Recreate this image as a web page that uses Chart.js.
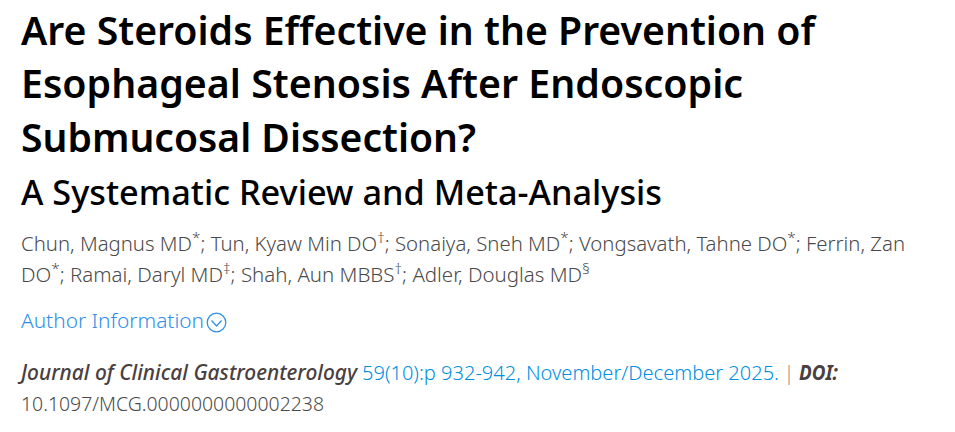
<!DOCTYPE html>
<html><head><meta charset="utf-8">
<script src="https://cdn.jsdelivr.net/npm/chart.js@4/dist/chart.umd.min.js"></script>
<style>html,body{margin:0;padding:0;background:#fff}#w{width:955px;height:432px;position:relative}canvas{display:block}</style>
</head><body><div id="w"><canvas id="c" width="955" height="432"></canvas></div>
<script>
const titleLines = ["Are Steroids Effective in the Prevention of","Esophageal Stenosis After Endoscopic","Submucosal Dissection?"];
const subtitleLine = ["A Systematic Review and Meta-Analysis"];
const authorsLine1 = [["Chun, Magnus MD"],["*",1],["; Tun, Kyaw Min DO"],["†",1],["; Sonaiya, Sneh MD"],["*",1],["; Vongsavath, Tahne DO"],["*",1],["; Ferrin, Zan"]];
const authorsLine2 = [["DO"],["*",1],["; Ramai, Daryl MD"],["‡",1],["; Shah, Aun MBBS"],["†",1],["; Adler, Douglas MD"],["§",1]];
const authorInfoLine = ["Author Information"];
const journalName = "Journal of Clinical Gastroenterology";
const citationText = "59(10):p 932-942, November/December 2025.";
const separatorText = "|";
const doiLabel = "DOI:";
const doiValue = "10.1097/MCG.0000000000002238";

const FF = '"Noto Sans"';
const GREY='#4a4a4a', BLUE='#0090e0', INFO='#3090e8', DARK='#4a4040';
const T=`600 39px ${FF}`;
const rows = [
 {y:45, x:21, r:815, runs:[{t:titleLines[0],f:T,c:'#000'}]},
 {y:98, x:21, r:743, runs:[{t:titleLines[1],f:T,c:'#000'}]},
 {y:152,x:21, r:476, runs:[{t:titleLines[2],f:T,c:'#000'}]},
 {y:205,x:21, r:662, runs:[{t:subtitleLine[0],f:`500 34px ${FF}`,c:'#000'}]},
 {y:251,x:21, r:905, runs:authorsLine1.map(a=>({t:a[0],sup:a[1],c:GREY}))},
 {y:282,x:21, r:590, runs:authorsLine2.map(a=>({t:a[0],sup:a[1],c:GREY}))},
 {y:328,x:21, r:204, runs:[{t:authorInfoLine[0],c:INFO}]},
 {y:380,x:21, r:357, runs:[{t:journalName,f:`italic 500 21px ${FF}`,c:DARK}]},
 {y:380,x:362,r:779, runs:[{t:citationText,c:BLUE}]},
 {y:380,x:786,r:792, runs:[{t:separatorText,c:'#333'}]},
 {y:380,x:799,r:838, runs:[{t:doiLabel,f:`italic 700 21px ${FF}`,c:DARK}]},
 {y:411,x:21, r:324, runs:[{t:doiValue,c:GREY}]}
];
const bodyFont=`350 20px ${FF}`, supFont=`300 15px ${FF}`;

const headerText = {
  id:'headerText',
  afterDraw(chart){
    const g=chart.ctx; g.save();
    g.textBaseline='alphabetic'; g.textAlign='left';
    for(const row of rows){
      let w=0;
      for(const u of row.runs){
        g.font=u.sup?supFont:(u.f||bodyFont);
        w+=g.measureText(u.t).width;
      }
      g.save();
      g.translate(row.x,0); g.scale((row.r-row.x)/w,1);
      let x=0;
      for(const u of row.runs){
        g.font=u.sup?supFont:(u.f||bodyFont);
        g.fillStyle=u.c;
        g.fillText(u.t,x,u.sup?row.y-8:row.y);
        x+=g.measureText(u.t).width;
      }
      g.restore();
    }
    g.strokeStyle=INFO; g.lineWidth=1.3;
    g.beginPath(); g.arc(216.5,322.5,9.3,0,Math.PI*2); g.stroke();
    g.beginPath(); g.moveTo(211.5,320.5); g.lineTo(216.5,326); g.lineTo(221.5,320.5); g.stroke();
    g.restore();
  }
};
new Chart(document.getElementById('c').getContext('2d',{alpha:false}),{
  type:'scatter',
  data:{datasets:[]},
  options:{responsive:false,animation:false,
    layout:{padding:0},
    plugins:{legend:{display:false},tooltip:{enabled:false},title:{display:false}},
    scales:{x:{display:false},y:{display:false}}},
  plugins:[{id:'bg',beforeDraw(ch){ch.ctx.save();ch.ctx.fillStyle='#fff';ch.ctx.fillRect(0,0,955,432);ch.ctx.restore();}},headerText]
});
</script></body></html>
